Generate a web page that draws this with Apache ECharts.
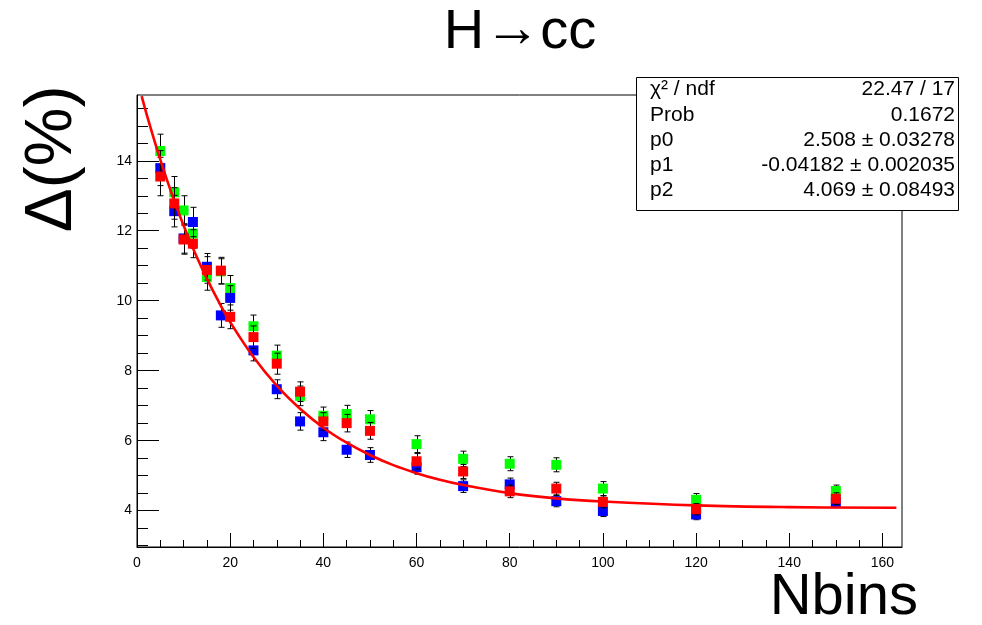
<!DOCTYPE html>
<html><head><meta charset="utf-8">
<script src="https://cdn.jsdelivr.net/npm/echarts@6/dist/echarts.min.js"></script>
<style>html,body{margin:0;padding:0;background:#fff}#c{width:982px;height:625px}</style>
</head><body><div id="c"></div>
<script>
// ---- data ----
const nbins = [5, 8, 10, 12, 15, 18, 20, 25, 30, 35, 40, 45, 50, 60, 70, 80, 90, 100, 120, 150];
const greenVals = [14.28, 13.10, 12.58, 11.92, 10.68, 10.84, 10.36, 9.27, 8.43, 7.28, 6.71, 6.76, 6.61, 5.90, 5.48, 5.34, 5.31, 4.63, 4.31, 4.56];
const greenErrs = [0.48, 0.45, 0.42, 0.42, 0.38, 0.36, 0.36, 0.32, 0.30, 0.28, 0.25, 0.25, 0.25, 0.24, 0.22, 0.20, 0.20, 0.20, 0.18, 0.17];
const blueVals  = [13.79, 12.56, 11.78, 12.25, 10.97, 9.58, 10.08, 8.58, 7.47, 6.55, 6.24, 5.74, 5.59, 5.24, 4.70, 4.75, 4.27, 3.99, 3.89, 4.25];
const blueErrs  = [0.50, 0.45, 0.42, 0.42, 0.38, 0.34, 0.35, 0.30, 0.27, 0.25, 0.24, 0.22, 0.21, 0.20, 0.18, 0.18, 0.16, 0.16, 0.15, 0.16];
const redVals   = [13.55, 12.78, 11.75, 11.63, 10.88, 10.86, 9.54, 8.96, 8.20, 7.40, 6.55, 6.50, 6.28, 5.41, 5.12, 4.55, 4.63, 4.25, 4.04, 4.34];
const redErrs   = [0.55, 0.45, 0.42, 0.40, 0.38, 0.38, 0.34, 0.32, 0.30, 0.28, 0.25, 0.25, 0.24, 0.22, 0.20, 0.18, 0.18, 0.17, 0.16, 0.17];
// fit curve
const fitX = [1, 2.5, 5, 7.5, 10, 12.5, 15, 17.5, 20, 25, 30, 35, 40, 45, 50, 55, 60, 65, 70, 80, 90, 100, 120, 140, 163];
const fitY = [15.85, 15.13, 14.03, 13.04, 12.15, 11.35, 10.63, 9.98, 9.39, 8.39, 7.57, 6.91, 6.37, 5.94, 5.59, 5.30, 5.07, 4.88, 4.73, 4.50, 4.35, 4.26, 4.15, 4.10, 4.08];
// axis ticks
const xMajorTicks = [0, 20, 40, 60, 80, 100, 120, 140, 160];
const xMinorTicks = [0, 5, 10, 15, 20, 25, 30, 35, 40, 45, 50, 55, 60, 65, 70, 75, 80, 85, 90, 95, 100, 105, 110, 115, 120, 125, 130, 135, 140, 145, 150, 155, 160];
const yMajorTicks = [4, 6, 8, 10, 12, 14];
const yMinorTicks = [3, 3.5, 4, 4.5, 5, 5.5, 6, 6.5, 7, 7.5, 8, 8.5, 9, 9.5, 10, 10.5, 11, 11.5, 12, 12.5, 13, 13.5, 14, 14.5, 15, 15.5];
// stats box text
const statLabels = ['χ² / ndf', 'Prob', 'p0', 'p1', 'p2'];
const statValues = ['22.47 / 17', '0.1672', '2.508 ± 0.03278', '-0.04182 ± 0.002035', '4.069 ± 0.08493'];

const FONT = '"Liberation Sans", Helvetica, Arial, sans-serif';
const X_MIN = 0, X_MAX = 164.2, Y_MIN = 2.96, Y_MAX = 15.88;

function errSeries(vals, errs, z) {
  return {
    type: 'custom', z: z, silent: true, clip: true,
    encode: { x: 0, y: 1 },
    data: nbins.map((x, i) => [x, vals[i], errs[i]]),
    renderItem: function (params, api) {
      const x = api.value(0), y = api.value(1), e = api.value(2);
      const t = api.coord([x, y + e]), b = api.coord([x, y - e]);
      const cx = Math.round(t[0]) + 0.5, cw = 3;
      const st = { stroke: '#000', lineWidth: 1 };
      return { type: 'group', children: [
        { type: 'line', shape: { x1: cx, y1: t[1], x2: cx, y2: b[1] }, style: st },
        { type: 'line', shape: { x1: cx - cw, y1: t[1], x2: cx + cw, y2: t[1] }, style: st },
        { type: 'line', shape: { x1: cx - cw, y1: b[1], x2: cx + cw, y2: b[1] }, style: st }
      ]};
    }
  };
}
function markSeries(vals, color, z) {
  return {
    type: 'scatter', z: z, silent: true, symbol: 'rect', symbolSize: 10,
    itemStyle: { color: color, opacity: 1 },
    data: nbins.map((x, i) => [x, vals[i]])
  };
}

const graphics = [
  { type: 'text', x: 520, y: 33, z: 100, style: {
      text: '{a|H}{b|→}{a|cc}', fill: '#000', align: 'center', verticalAlign: 'middle',
      rich: {
        a: { fontSize: 56, fontFamily: FONT, fill: '#000' },
        b: { fontSize: 56, fontFamily: FONT, fill: '#000', padding: [0, 0, 5, 0] }
      } } },
  { type: 'text', x: 53, y: 159, rotation: Math.PI / 2, z: 100, style: { text: 'Δ(%)', font: '66px ' + FONT, fill: '#000', align: 'center', verticalAlign: 'middle' } },
  { type: 'text', x: 918, y: 598, z: 100, style: { text: 'Nbins', font: '58px ' + FONT, fill: '#000', align: 'right', verticalAlign: 'middle' } },
  { type: 'rect', shape: { x: 636.5, y: 77.5, width: 322, height: 133 }, z: 100, style: { fill: '#fff', stroke: '#000', lineWidth: 1 } }
];
const rowY = [89.5, 115, 140, 165, 190];
statLabels.forEach((t, i) => {
  graphics.push({ type: 'text', x: 650, y: rowY[i], z: 101, style: { text: t, font: '21px ' + FONT, fill: '#000', align: 'left', verticalAlign: 'middle' } });
  graphics.push({ type: 'text', x: 955, y: rowY[i], z: 101, style: { text: statValues[i], font: '21px ' + FONT, fill: '#000', align: 'right', verticalAlign: 'middle' } });
});

const chart = echarts.init(document.getElementById('c'), null, { renderer: 'canvas' });
chart.setOption({
  animation: false,
  backgroundColor: '#fff',
  grid: { left: 137, right: 80, top: 95, bottom: 78, show: true, borderColor: '#000', borderWidth: 1, backgroundColor: 'transparent' },
  xAxis: [
    { type: 'value', position: 'bottom', min: X_MIN, max: X_MAX,
      axisLine: { show: true, onZero: false, lineStyle: { color: '#000', width: 1 } },
      axisTick: { show: true, inside: true, length: 14, customValues: xMajorTicks, lineStyle: { color: '#000', width: 1 } },
      axisLabel: { show: true, customValues: xMajorTicks, margin: 9, color: '#000', fontSize: 14, fontFamily: FONT },
      splitLine: { show: false } },
    { type: 'value', position: 'bottom', min: X_MIN, max: X_MAX,
      axisLine: { show: false },
      axisTick: { show: true, inside: true, length: 7, customValues: xMinorTicks, lineStyle: { color: '#000', width: 1 } },
      axisLabel: { show: false }, splitLine: { show: false } }
  ],
  yAxis: [
    { type: 'value', position: 'left', min: Y_MIN, max: Y_MAX,
      axisLine: { show: true, onZero: false, lineStyle: { color: '#000', width: 1 } },
      axisTick: { show: true, inside: true, length: 22, customValues: yMajorTicks, lineStyle: { color: '#000', width: 1 } },
      axisLabel: { show: true, customValues: yMajorTicks, margin: 5, color: '#000', fontSize: 14, fontFamily: FONT },
      splitLine: { show: false } },
    { type: 'value', position: 'left', min: Y_MIN, max: Y_MAX,
      axisLine: { show: false },
      axisTick: { show: true, inside: true, length: 11, customValues: yMinorTicks, lineStyle: { color: '#000', width: 1 } },
      axisLabel: { show: false }, splitLine: { show: false } }
  ],
  series: [
    errSeries(greenVals, greenErrs, 2),
    markSeries(greenVals, '#00ff00', 3),
    errSeries(blueVals, blueErrs, 4),
    markSeries(blueVals, '#0000ff', 5),
    errSeries(redVals, redErrs, 6),
    markSeries(redVals, '#ff0000', 7),
    { type: 'line', z: 8, silent: true, smooth: 0.4, showSymbol: false, clip: true,
      lineStyle: { color: '#ff0000', width: 2.6 },
      data: fitX.map((x, i) => [x, fitY[i]]) }
  ],
  graphic: graphics
});
</script>
</body></html>
